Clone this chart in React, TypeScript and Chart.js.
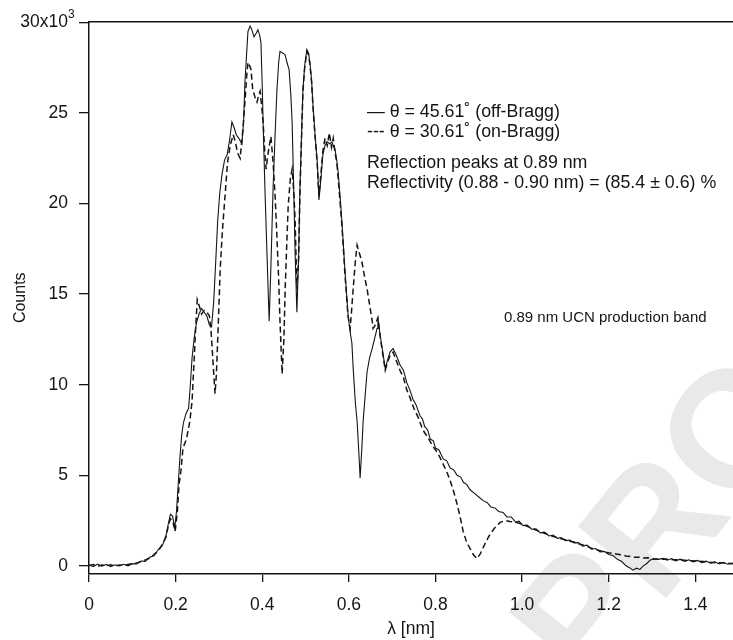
import React, { useEffect, useRef } from "react";
import { Chart, registerables } from "chart.js";

Chart.register(...registerables);

// ---------- axis ticks ----------
const xTicks = [0, 0.2, 0.4, 0.6, 0.8, 1.0, 1.2, 1.4];
const xTickLabels = ["0", "0.2", "0.4", "0.6", "0.8", "1.0", "1.2", "1.4"];
const yTicks = [0, 5, 10, 15, 20, 25, 30];
const yTickLabels = ["0", "5", "10", "15", "20", "25", "30x10"];
const yTopExponent = "3";

// ---------- series: θ = 45.61° (off-Bragg), counts in thousands ----------
const offBraggLambda = [
  0, 0.01, 0.02, 0.03, 0.04, 0.05, 0.06, 0.07, 0.08, 0.09, 0.1, 0.11, 0.12, 0.13, 0.14, 0.15, 0.16, 0.17,
  0.178, 0.183, 0.188, 0.193, 0.198, 0.202, 0.206, 0.21, 0.214, 0.218, 0.224, 0.23, 0.234, 0.238, 0.243,
  0.248, 0.254, 0.26, 0.266, 0.272, 0.278, 0.283, 0.288, 0.292, 0.297, 0.302, 0.307, 0.313, 0.319, 0.324,
  0.33, 0.335, 0.34, 0.346, 0.353, 0.357, 0.36, 0.364, 0.367, 0.372, 0.376, 0.381, 0.386, 0.39, 0.394,
  0.397, 0.4, 0.402, 0.406, 0.411, 0.416, 0.42, 0.425, 0.43, 0.434, 0.438, 0.441, 0.448, 0.453, 0.457,
  0.462, 0.466, 0.469, 0.473, 0.476, 0.48, 0.484, 0.487, 0.491, 0.494, 0.498, 0.503, 0.507, 0.51, 0.514,
  0.517, 0.522, 0.527, 0.531, 0.536, 0.54, 0.545, 0.55, 0.556, 0.561, 0.564, 0.568, 0.572, 0.575, 0.58,
  0.584, 0.591, 0.598, 0.603, 0.607, 0.61, 0.615, 0.619, 0.623, 0.626, 0.63, 0.633, 0.638, 0.642, 0.648,
  0.654, 0.66, 0.665, 0.667, 0.672, 0.677, 0.684, 0.69, 0.695, 0.702, 0.71, 0.718, 0.726, 0.734, 0.741,
  0.748, 0.755, 0.764, 0.77, 0.775, 0.782, 0.788, 0.795, 0.8, 0.808, 0.818, 0.826, 0.834, 0.842, 0.85,
  0.858, 0.865, 0.872, 0.88, 0.89, 0.9, 0.91, 0.919, 0.928, 0.937, 0.946, 0.956, 0.965, 0.975, 0.985,
  0.993, 1.002, 1.012, 1.022, 1.032, 1.042, 1.052, 1.062, 1.072, 1.081, 1.09, 1.1, 1.11, 1.12, 1.13,
  1.14, 1.15, 1.16, 1.17, 1.18, 1.19, 1.2, 1.21, 1.22, 1.23, 1.24, 1.248, 1.256, 1.264, 1.272, 1.28,
  1.288, 1.296, 1.305, 1.315, 1.325, 1.335, 1.345, 1.355, 1.365, 1.375, 1.385, 1.395, 1.405, 1.415,
  1.425, 1.435, 1.445, 1.455, 1.465, 1.475, 1.487,
];
const offBraggCounts = [
  0.05, -0.04, 0.1, -0.02, 0.08, -0.05, 0.06, -0.01, 0.09, 0.0, 0.12, 0.1, 0.27, 0.25, 0.48, 0.55, 0.9, 1.15,
  1.7, 2.3, 2.85, 2.75, 2.1, 3.0, 4.5, 6.0, 7.2, 7.9, 8.4, 8.7, 10.0, 11.5, 12.6,
  13.4, 13.9, 14.2, 14.0, 13.8, 13.3, 13.2, 14.6, 16.5, 19.0, 20.6, 21.6, 22.4, 22.7, 23.4,
  24.5, 24.2, 23.8, 23.6, 23.3, 24.5, 26.7, 28.3, 29.5, 29.8, 29.6, 29.2, 29.4, 29.6, 29.3,
  28.9, 26.5, 24.5, 21.0, 17.2, 13.5, 16.5, 20.8, 24.0, 26.3, 27.8, 28.4, 28.3, 28.2, 27.8,
  27.4, 26.0, 24.5, 20.5, 17.2, 14.0, 17.0, 20.8, 24.0, 26.3, 27.6, 28.5, 28.3, 27.8, 26.8,
  25.5, 23.8, 22.3, 20.2, 21.5, 22.7, 23.2, 23.4, 23.3, 23.4, 23.2, 23.0, 22.4, 21.8, 20.3,
  19.0, 16.3, 13.9, 12.9, 12.3, 10.9, 9.0, 8.0, 6.3, 4.85, 6.5, 8.0, 9.5, 10.7, 11.5,
  12.0, 12.6, 13.1, 13.7, 12.8, 12.0, 10.9, 11.4, 11.8, 12.0, 11.6, 11.1, 10.8, 10.1, 9.7,
  9.2, 8.9, 8.3, 8.1, 7.7, 7.5, 7.0, 6.9, 6.5, 6.4, 5.9, 5.8, 5.4, 5.3, 5.0,
  4.9, 4.6, 4.5, 4.2, 4.0, 3.8, 3.6, 3.5, 3.25, 3.2, 3.0, 2.95, 2.7, 2.7, 2.42,
  2.47, 2.22, 2.25, 2.02, 2.04, 1.82, 1.86, 1.65, 1.7, 1.52, 1.56, 1.39, 1.42, 1.27, 1.28,
  1.09, 1.14, 0.92, 0.96, 0.77, 0.8, 0.63, 0.57, 0.36, 0.24, 0.0, -0.1, -0.24, -0.13, -0.2, 0.0,
  0.13, 0.32, 0.38, 0.36, 0.41, 0.31, 0.4, 0.28, 0.37, 0.25, 0.33, 0.22, 0.3, 0.18,
  0.26, 0.15, 0.22, 0.11, 0.2, 0.09, 0.15,
];

// ---------- series: θ = 30.61° (on-Bragg), counts in thousands ----------
const onBraggLambda = [
  0, 0.01, 0.02, 0.03, 0.04, 0.05, 0.06, 0.07, 0.08, 0.09, 0.1, 0.11, 0.12, 0.13, 0.14, 0.15, 0.16, 0.17,
  0.178, 0.183, 0.188, 0.193, 0.199, 0.204, 0.208, 0.212, 0.217, 0.225, 0.233, 0.238, 0.242, 0.246, 0.25,
  0.254, 0.26, 0.266, 0.272, 0.278, 0.282, 0.287, 0.291, 0.294, 0.298, 0.303, 0.308, 0.315, 0.32, 0.326,
  0.333, 0.338, 0.343, 0.349, 0.355, 0.36, 0.364, 0.367, 0.371, 0.374, 0.378, 0.383, 0.388, 0.392, 0.395,
  0.399, 0.402, 0.406, 0.409, 0.413, 0.42, 0.425, 0.43, 0.434, 0.438, 0.441, 0.446, 0.45, 0.453, 0.457,
  0.46, 0.465, 0.469, 0.473, 0.476, 0.48, 0.484, 0.487, 0.491, 0.494, 0.498, 0.503, 0.507, 0.51, 0.514,
  0.517, 0.522, 0.527, 0.531, 0.536, 0.54, 0.545, 0.55, 0.555, 0.56, 0.564, 0.568, 0.572, 0.575, 0.58,
  0.584, 0.591, 0.598, 0.603, 0.606, 0.61, 0.615, 0.619, 0.625, 0.63, 0.636, 0.642, 0.648, 0.654, 0.656,
  0.661, 0.667, 0.672, 0.677, 0.684, 0.69, 0.695, 0.702, 0.71, 0.718, 0.726, 0.734, 0.741, 0.75, 0.76,
  0.771, 0.782, 0.794, 0.806, 0.818, 0.826, 0.834, 0.842, 0.85, 0.857, 0.864, 0.872, 0.88, 0.888, 0.896,
  0.903, 0.91, 0.918, 0.926, 0.937, 0.949, 0.961, 0.972, 0.985, 0.993, 1.002, 1.012, 1.022, 1.032, 1.042,
  1.052, 1.062, 1.072, 1.081, 1.09, 1.1, 1.11, 1.12, 1.13, 1.14, 1.15, 1.16, 1.17, 1.18, 1.19, 1.2,
  1.21, 1.22, 1.23, 1.24, 1.25, 1.26, 1.27, 1.28, 1.29, 1.3, 1.315, 1.33, 1.35, 1.37, 1.39, 1.41, 1.43,
  1.45, 1.47, 1.487,
];
const onBraggCounts = [
  0.02, 0.07, -0.03, 0.05, 0.0, 0.06, -0.02, 0.05, 0.03, 0.08, 0.12, 0.16, 0.23, 0.33, 0.42, 0.62, 0.83, 1.2,
  1.6, 2.2, 2.6, 2.5, 1.9, 3.0, 4.5, 5.2, 6.5, 7.0, 8.0, 9.1, 11.0, 13.0, 14.7,
  14.4, 13.9, 14.1, 14.0, 13.8, 12.9, 11.0, 9.5, 10.5, 13.0, 16.4, 18.5, 20.7, 22.3, 23.2,
  23.8, 23.4, 22.8, 22.5, 24.0, 25.6, 27.0, 27.8, 27.6, 27.4, 26.3, 25.9, 25.6, 26.0, 26.2,
  25.3, 24.5, 22.8, 21.9, 22.7, 23.7, 22.3, 20.3, 18.1, 15.8, 13.5, 10.6, 12.5, 15.3, 18.0,
  19.9, 21.4, 21.9, 20.6, 19.0, 15.3, 17.0, 20.5, 23.8, 26.2, 27.5, 28.4, 28.2, 27.7, 26.7,
  25.4, 23.7, 22.2, 20.4, 21.8, 22.9, 23.6, 23.2, 23.9, 23.1, 23.6, 22.8, 22.3, 21.5, 20.0,
  18.8, 16.1, 13.8, 13.1, 14.0, 15.3, 16.8, 17.7, 17.2, 16.8, 16.0, 15.3, 14.4, 13.5, 13.1,
  13.3, 13.7, 12.7, 11.9, 10.8, 11.3, 11.6, 11.8, 11.3, 10.8, 10.4, 9.7, 9.3, 8.7, 8.2,
  7.5, 7.1, 6.6, 6.2, 5.6, 5.2, 4.7, 4.1, 3.4, 2.7, 1.9, 1.3, 0.95, 0.6, 0.4,
  0.65, 1.0, 1.4, 1.75, 2.1, 2.4, 2.5, 2.45, 2.4, 2.35, 2.28, 2.18, 2.08, 1.97, 1.88,
  1.8, 1.7, 1.62, 1.57, 1.5, 1.44, 1.36, 1.32, 1.22, 1.15, 1.08, 0.98, 0.9, 0.84, 0.77, 0.72,
  0.68, 0.64, 0.6, 0.55, 0.52, 0.47, 0.48, 0.44, 0.45, 0.4, 0.36, 0.38, 0.34, 0.32, 0.28, 0.25, 0.21,
  0.17, 0.15, 0.12,
];

// ---------- text ----------
const legendLines = [
  "\u2014 \u03B8 = 45.61\u02DA (off-Bragg)",
  "--- \u03B8 = 30.61\u02DA (on-Bragg)",
];
const noteLines = [
  "Reflection peaks at 0.89 nm",
  "Reflectivity (0.88 - 0.90 nm) = (85.4 \u00B1 0.6) %",
];
const bandLabel = "0.89 nm UCN production band";
const watermarkText = "PROOF";

const FONT = '"Liberation Sans", Arial, Helvetica, sans-serif';
const INK = "#151515";

const textPlugin = {
  id: "textPlugin",
  beforeDraw(chart: any) {
    const ctx = chart.ctx;
    ctx.save();
    ctx.translate(590, 692);
    ctx.rotate((-51 * Math.PI) / 180);
    ctx.font = `bold 165px ${FONT}`;
    ctx.fillStyle = "#e9e9e9";
    ctx.textAlign = "left";
    ctx.textBaseline = "alphabetic";
    ctx.fillText(watermarkText, 0, 0);
    ctx.restore();
  },
  afterDraw(chart: any) {
    const ctx = chart.ctx;
    ctx.save();
    ctx.fillStyle = INK;
    // superscript exponent of the top y tick label
    const yScale = chart.scales.y;
    const yTop = yScale.getPixelForValue(yTicks[yTicks.length - 1]);
    ctx.font = `12px ${FONT}`;
    ctx.textAlign = "left";
    ctx.textBaseline = "middle";
    ctx.fillText(yTopExponent, 68, yTop - 8);

    ctx.font = `17.8px ${FONT}`;
    ctx.fillText(legendLines[0], 367, 112);
    ctx.fillText(legendLines[1], 367, 132);
    ctx.fillText(noteLines[0], 367, 163);
    ctx.fillText(noteLines[1], 367, 183);
    ctx.font = `15px ${FONT}`;
    ctx.fillText(bandLabel, 504, 318);
    ctx.restore();
  },
};

export default function App() {
  const canvasRef = useRef<HTMLCanvasElement | null>(null);

  useEffect(() => {
    const canvas = canvasRef.current;
    if (!canvas) return;
    const tickFont = { family: FONT, size: 17.5 };
    const chart = new Chart(canvas, {
      type: "line",
      data: {
        datasets: [
          {
            label: "θ = 45.61˚ (off-Bragg)",
            data: offBraggLambda.map((l, i) => ({ x: l, y: offBraggCounts[i] })),
            borderColor: INK,
            borderWidth: 1.1,
            pointRadius: 0,
            fill: false,
            tension: 0,
          },
          {
            label: "θ = 30.61˚ (on-Bragg)",
            data: onBraggLambda.map((l, i) => ({ x: l, y: onBraggCounts[i] })),
            borderColor: INK,
            borderWidth: 1.5,
            borderDash: [6, 3.5],
            pointRadius: 0,
            fill: false,
            tension: 0,
          },
        ],
      },
      options: {
        animation: false,
        responsive: false,
        devicePixelRatio: 1,
        layout: { padding: { left: 0, right: 0, top: 20, bottom: 0 } },
        plugins: { legend: { display: false }, tooltip: { enabled: false } },
        scales: {
          x: {
            type: "linear",
            position: "bottom",
            min: 0,
            max: 1.487,
            afterFit: (s: any) => {
              s.height = 66;
            },
            afterBuildTicks: (s: any) => {
              s.ticks = xTicks.map((v) => ({ value: v }));
            },
            ticks: {
              callback: (v: any) => xTickLabels[xTicks.indexOf(v)] ?? "",
              font: tickFont,
              color: INK,
              padding: 13,
              maxRotation: 0,
              autoSkip: false,
            },
            grid: {
              display: true,
              drawOnChartArea: false,
              drawTicks: true,
              tickLength: 8,
              color: INK,
              lineWidth: 1.3,
            },
            border: { display: true, color: INK, width: 1.5 },
            title: {
              display: true,
              text: "λ [nm]",
              font: tickFont,
              color: INK,
              padding: { top: 0, bottom: 0 },
            },
          },
          xTop: {
            type: "linear",
            position: "top",
            min: 0,
            max: 1.487,
            afterFit: (s: any) => {
              s.height = 0;
            },
            ticks: { display: false },
            grid: { display: false, drawTicks: false },
            border: { display: true, color: INK, width: 1.5 },
          },
          y: {
            type: "linear",
            position: "left",
            min: -0.45,
            max: 30.05,
            afterFit: (s: any) => {
              s.width = 89;
            },
            afterBuildTicks: (s: any) => {
              s.ticks = yTicks.map((v) => ({ value: v }));
            },
            ticks: {
              callback: (v: any) => yTickLabels[yTicks.indexOf(v)] ?? "",
              font: tickFont,
              color: INK,
              padding: 11,
              autoSkip: false,
            },
            grid: {
              display: true,
              drawOnChartArea: false,
              drawTicks: true,
              tickLength: 10,
              color: INK,
              lineWidth: 1.3,
            },
            border: { display: true, color: INK, width: 1.5 },
            title: {
              display: true,
              text: "Counts",
              font: { family: FONT, size: 16 },
              color: INK,
              padding: { top: 11, bottom: 0 },
            },
          },
        },
      },
      plugins: [textPlugin],
    } as any);
    return () => chart.destroy();
  }, []);

  return (
    <div style={{ position: "absolute", left: 0, top: 0, width: 733, height: 640, background: "#fff" }}>
      <canvas ref={canvasRef} width={733} height={640} style={{ display: "block" }} />
    </div>
  );
}
